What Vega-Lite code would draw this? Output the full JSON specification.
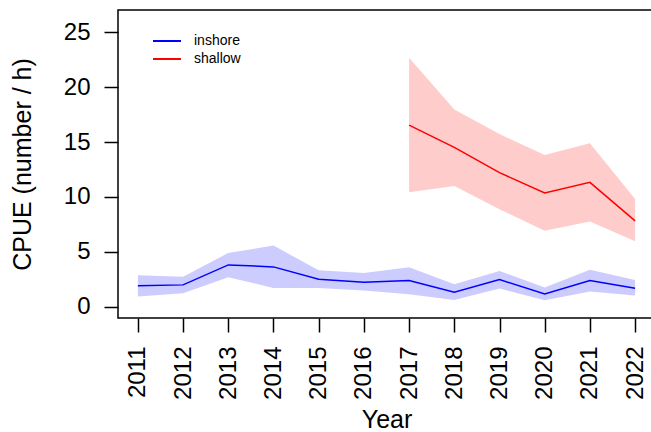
{
  "$schema": "https://vega.github.io/schema/vega-lite/v6.json",
  "width": 537,
  "height": 308,
  "autosize": {"type": "none"},
  "padding": {"left": 118, "top": 10, "right": 0, "bottom": 114},
  "background": "white",
  "config": {
    "font": "Liberation Sans",
    "view": {"stroke": "black", "strokeWidth": 1.5},
    "axis": {"grid": false, "domain": false, "tickColor": "black", "tickWidth": 1.5, "tickSize": 14,
      "labelColor": "black", "titleColor": "black", "labelFont": "Liberation Sans", "titleFont": "Liberation Sans",
      "labelFontSize": 24, "titleFontSize": 25, "titleFontWeight": "normal"}
  },
  "data": {"values": [
    {"year": 2011, "group": "inshore", "cpue": 1.89, "lo": 0.91, "hi": 2.86},
    {"year": 2012, "group": "inshore", "cpue": 1.98, "lo": 1.22, "hi": 2.71},
    {"year": 2013, "group": "inshore", "cpue": 3.80, "lo": 2.68, "hi": 4.89},
    {"year": 2014, "group": "inshore", "cpue": 3.62, "lo": 1.70, "hi": 5.56},
    {"year": 2015, "group": "inshore", "cpue": 2.49, "lo": 1.70, "hi": 3.31},
    {"year": 2016, "group": "inshore", "cpue": 2.22, "lo": 1.46, "hi": 3.07},
    {"year": 2017, "group": "inshore", "cpue": 2.37, "lo": 1.13, "hi": 3.59},
    {"year": 2018, "group": "inshore", "cpue": 1.31, "lo": 0.61, "hi": 2.04},
    {"year": 2019, "group": "inshore", "cpue": 2.46, "lo": 1.64, "hi": 3.25},
    {"year": 2020, "group": "inshore", "cpue": 1.16, "lo": 0.58, "hi": 1.73},
    {"year": 2021, "group": "inshore", "cpue": 2.37, "lo": 1.37, "hi": 3.37},
    {"year": 2022, "group": "inshore", "cpue": 1.67, "lo": 1.00, "hi": 2.43},
    {"year": 2017, "group": "shallow", "cpue": 16.55, "lo": 10.42, "hi": 22.69},
    {"year": 2018, "group": "shallow", "cpue": 14.52, "lo": 11.00, "hi": 17.98},
    {"year": 2019, "group": "shallow", "cpue": 12.21, "lo": 8.87, "hi": 15.73},
    {"year": 2020, "group": "shallow", "cpue": 10.36, "lo": 6.92, "hi": 13.82},
    {"year": 2021, "group": "shallow", "cpue": 11.33, "lo": 7.75, "hi": 14.89},
    {"year": 2022, "group": "shallow", "cpue": 7.81, "lo": 5.96, "hi": 9.81}
  ]},
  "encoding": {
    "x": {"field": "year", "type": "quantitative",
      "scale": {"domain": [2010.56, 2022.44], "nice": false, "zero": false},
      "axis": {"title": "Year", "values": [2011,2012,2013,2014,2015,2016,2017,2018,2019,2020,2021,2022],
        "format": "d", "labelAngle": -90, "labelAlign": "right", "labelBaseline": "middle",
        "labelPadding": 14, "titlePadding": 8, "labelOverlap": false, "labelFlush": false}}
  },
  "layer": [
    {
      "transform": [{"filter": "datum.group === 'inshore'"}],
      "mark": {"type": "area", "color": "#ccccff", "opacity": 1},
      "encoding": {
        "y": {"field": "lo", "type": "quantitative",
          "scale": {"domain": [-1.04, 27.04], "nice": false, "zero": false},
          "axis": {"title": "CPUE (number / h)", "values": [0,5,10,15,20,25], "labelPadding": 14, "titlePadding": 28, "labelFlush": false}},
        "y2": {"field": "hi"}
      }
    },
    {
      "transform": [{"filter": "datum.group === 'shallow'"}],
      "mark": {"type": "area", "color": "#ffcccc", "opacity": 1},
      "encoding": {
        "y": {"field": "lo", "type": "quantitative"},
        "y2": {"field": "hi"}
      }
    },
    {
      "mark": {"type": "line", "strokeWidth": 1.5},
      "encoding": {
        "y": {"field": "cpue", "type": "quantitative"},
        "color": {"field": "group", "type": "nominal",
          "scale": {"domain": ["inshore", "shallow"], "range": ["#0000ff", "#ff0000"]},
          "legend": {"title": null, "orient": "none", "legendX": 41, "legendY": 23, "padding": 0,
            "symbolType": "M-2,0H2", "symbolSize": 196, "symbolStrokeWidth": 2, "symbolFillColor": "transparent", "labelFontSize": 14,
            "labelFont": "Liberation Sans", "labelColor": "black", "labelOffset": 19, "rowPadding": 3}}
      }
    }
  ]
}
